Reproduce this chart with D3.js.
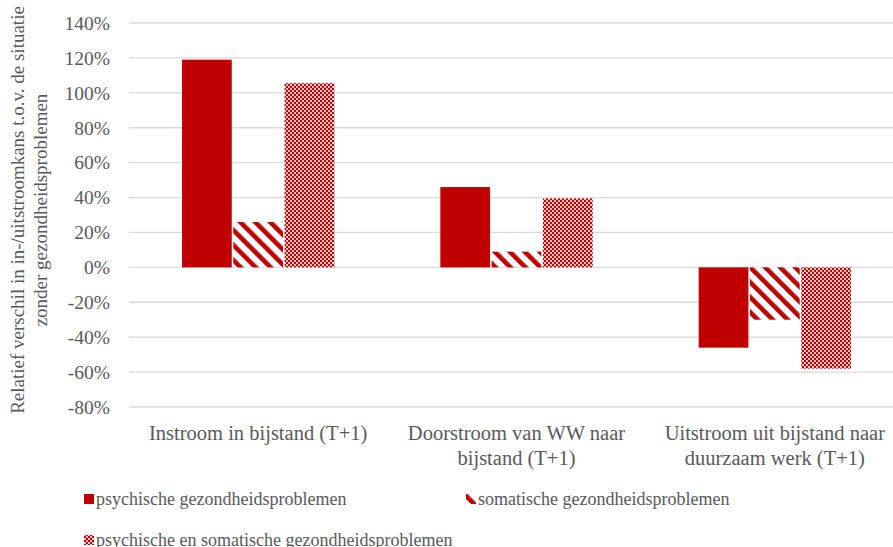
<!DOCTYPE html>
<html>
<head>
<meta charset="utf-8">
<script src="https://cdn.jsdelivr.net/npm/d3@7"></script>
<style>
  body { margin: 0; background: #fff; }
  text { font-family: "Liberation Serif", "DejaVu Serif", serif; fill: #595959; }
</style>
</head>
<body>
<div id="chartbox"></div>
<script>
// data
var categories = [["Instroom in bijstand (T+1)"], ["Doorstroom van WW naar", "bijstand (T+1)"], ["Uitstroom uit bijstand naar", "duurzaam werk (T+1)"]];
var seriesNames = ["psychische gezondheidsproblemen", "somatische gezondheidsproblemen", "psychische en somatische gezondheidsproblemen"];
var psychisch = [1.19, 0.46, -0.46];
var somatisch = [0.26, 0.09, -0.30];
var beide = [1.055, 0.395, -0.58];
var yTicks = [1.4, 1.2, 1.0, 0.8, 0.6, 0.4, 0.2, 0, -0.2, -0.4, -0.6, -0.8];

const width = 893, height = 547;
var svg = d3.select('#chartbox').append('svg').attr('width', width).attr('height', height);

var red = '#C00000';
var defs = svg.append('defs');
var diag = defs.append('pattern').attr('id', 'diag').attr('patternUnits', 'userSpaceOnUse')
  .attr('width', 10.6).attr('height', 10.6).attr('patternTransform', 'rotate(-45)');
diag.append('rect').attr('width', 10.6).attr('height', 10.6).attr('fill', '#fff');
diag.append('rect').attr('width', 4.6).attr('height', 10.6).attr('fill', red);
var check = defs.append('pattern').attr('id', 'check').attr('patternUnits', 'userSpaceOnUse')
  .attr('width', 4).attr('height', 4);
check.append('rect').attr('width', 4).attr('height', 4).attr('fill', '#f4c6c6');
check.append('rect').attr('width', 2).attr('height', 2).attr('fill', red);
check.append('rect').attr('x', 2).attr('y', 2).attr('width', 2).attr('height', 2).attr('fill', red);
var fills = [red, 'url(#diag)', 'url(#check)'];

var margin = {left: 129, right: -11};
var y = d3.scaleLinear().domain([-0.8, 1.4]).range([407, 23]);
var x0 = d3.scaleBand().domain(d3.range(3)).range([margin.left, width - margin.right]).paddingInner(0).paddingOuter(0);
var x1 = d3.scaleBand().domain(d3.range(3)).range([53, x0.bandwidth() - 53]).paddingInner(0.03);
var pct = d => Math.round(d * 100) + '%';

// gridlines
svg.append('g').selectAll('line').data(yTicks).join('line')
  .attr('x1', margin.left).attr('x2', width)
  .attr('y1', d => y(d)).attr('y2', d => y(d))
  .attr('stroke', '#d9d9d9').attr('stroke-width', 1.3);

// y labels
svg.append('g').selectAll('text').data(yTicks).join('text')
  .attr('x', 110).attr('y', d => y(d)).attr('dy', '0.35em')
  .attr('text-anchor', 'end').style('font-size', '19.5px')
  .text(pct);

// bars
var series = [psychisch, somatisch, beide];
series.forEach(function (vals, s) {
  svg.append('g').selectAll('rect').data(vals).join('rect')
    .attr('x', (d, i) => x0(i) + x1(s))
    .attr('width', x1.bandwidth())
    .attr('y', d => y(Math.max(0, d)))
    .attr('height', d => Math.abs(y(d) - y(0)))
    .attr('fill', fills[s]);
});

// category labels
categories.forEach(function (lines, i) {
  var t = svg.append('text').attr('text-anchor', 'middle').style('font-size', '20.5px');
  lines.forEach(function (l, j) {
    t.append('tspan').attr('x', x0(i) + x0.bandwidth() / 2).attr('y', 440 + j * 25).text(l);
  });
});

// y axis title
var yt = svg.append('text').attr('transform', 'translate(0,' + 210 + ') rotate(-90)')
  .attr('text-anchor', 'middle').style('font-size', '19px');
yt.append('tspan').attr('x', 0).attr('y', 24).text('Relatief verschil in in-/uitstroomkans t.o.v. de situatie');
yt.append('tspan').attr('x', 0).attr('y', 47).text('zonder gezondheidsproblemen');

// legend
var legendPos = [[84, 499], [466, 499], [84, 540]];
seriesNames.forEach(function (n, i) {
  var g = svg.append('g').attr('transform', 'translate(' + legendPos[i][0] + ',' + legendPos[i][1] + ')');
  g.append('rect').attr('x', 0).attr('y', -5).attr('width', 10).attr('height', 10).attr('fill', fills[i]);
  g.append('text').attr('x', 12).attr('y', 0).attr('dy', '0.35em').style('font-size', '18px').text(n);
});
</script>
</body>
</html>
